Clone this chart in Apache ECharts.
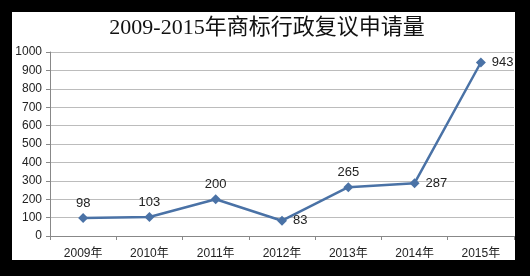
<!DOCTYPE html>
<html><head><meta charset="utf-8">
<script src="https://cdn.jsdelivr.net/npm/echarts@6/dist/echarts.min.js"></script>
<style>html,body{margin:0;padding:0;background:#000}#c{width:530px;height:276px}</style>
</head><body><div id="c"></div>
<script>
var titleText = '2009-2015年商标行政复议申请量';
var categories = ['2009年','2010年','2011年','2012年','2013年','2014年','2015年'];
var values = [98, 103, 200, 83, 265, 287, 943];
var labelPos = ['top','top','top','right','top','right','right'];

var chart = echarts.init(document.getElementById('c'), null, {renderer:'canvas'});
chart.setOption({
  backgroundColor: '#000',
  animation: false,
  graphic: [{type:'rect', z:-10, shape:{x:12,y:12,width:503,height:248}, style:{fill:'#fff'}}],
  title: {text: titleText, left: 262, textAlign:'center', top: 12,
    textStyle:{fontFamily:'"Liberation Serif","DejaVu Serif","Noto Sans CJK SC",serif', fontSize:22, fontWeight:'normal', color:'#111'}},
  grid: {left:50, right:16, top:52, bottom:40},
  xAxis: {type:'category', data: categories, boundaryGap:true,
    axisLine:{lineStyle:{color:'#888'}}, axisTick:{show:true, length:4, lineStyle:{color:'#888'}},
    axisLabel:{color:'#222', fontSize:12, margin:12, fontFamily:'"Liberation Sans","Noto Sans CJK SC",sans-serif'}},
  yAxis: {type:'value', min:0, max:1000, interval:100,
    axisLine:{show:true, lineStyle:{color:'#888'}}, axisTick:{show:true, length:4, lineStyle:{color:'#888'}},
    splitLine:{lineStyle:{color:'#bcbcbc'}},
    axisLabel:{color:'#222', fontSize:12, margin:8, fontFamily:'"Liberation Sans",sans-serif', formatter:function(v){return String(v);}}},
  series: [{type:'line', data: values.map(function(v,i){return {value:v, label:{position:labelPos[i], distance: labelPos[i]==='top'?3:6}};}),
    symbol:'diamond', symbolSize:10,
    lineStyle:{color:'#4a72a6', width:2.5}, itemStyle:{color:'#4a72a6'},
    label:{show:true, color:'#222', fontSize:13, fontFamily:'"Liberation Sans",sans-serif'}}]
});
</script></body></html>
